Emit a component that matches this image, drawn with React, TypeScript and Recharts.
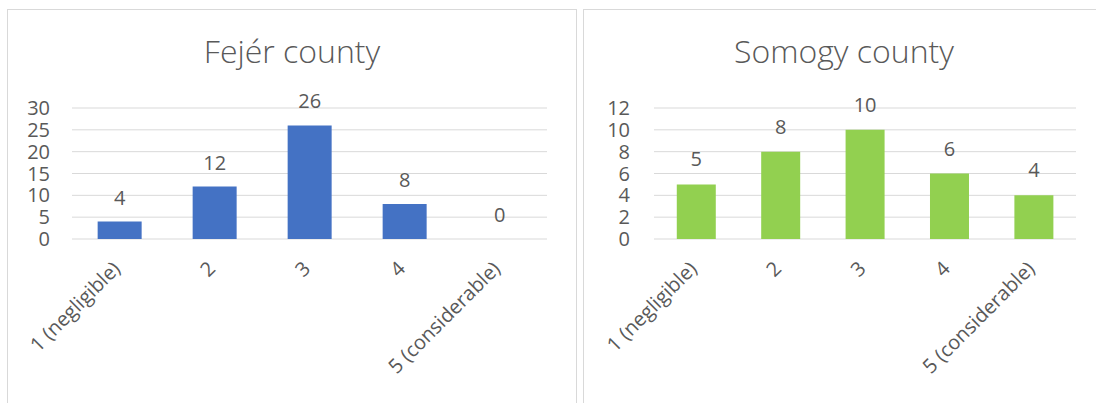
import React from 'react';
import { BarChart, Bar, XAxis, YAxis, CartesianGrid, LabelList, Rectangle } from 'recharts';

const categories = ['1 (negligible)', '2', '3', '4', '5 (considerable)'];
const fejerValues = [4, 12, 26, 8, 0];
const somogyValues = [5, 8, 10, 6, 4];
const fejerTicks = [0, 5, 10, 15, 20, 25, 30];
const somogyTicks = [0, 2, 4, 6, 8, 10, 12];
const edgeTicks = [0, 1, 2, 3, 4, 5];

const fejerData = categories.map((c, i) => ({ cat: c, v: fejerValues[i] }));
const somogyData = categories.map((c, i) => ({ cat: c, v: somogyValues[i] }));

const TEXT = '#595959';
const GRID = '#d9d9d9';
const AXIS = '#d0d0d0';
const FONT = "'Open Sans', sans-serif";

const CatTick = (props: any) => {
  const { x, y, payload } = props;
  return (
    <text
      x={0}
      y={0}
      transform={`translate(${x + 2},${y + 23}) rotate(-45)`}
      textAnchor="end"
      fontSize={20}
      fill={TEXT}
      fontFamily={FONT}
    >
      {payload.value}
    </text>
  );
};

const EmptyTick = () => <g />;

const BarShape = (props: any) => {
  if (!props.payload || props.payload.v === 0) return <g />;
  return <Rectangle {...props} />;
};

type PanelProps = {
  data: { cat: string; v: number }[];
  ticks: number[];
  color: string;
  width: number;
  marginRight: number;
  yWidth: number;
  tickMargin: number;
  labelOffset: number;
};

const Chart = ({ data, ticks, color, width, marginRight, yWidth, tickMargin, labelOffset }: PanelProps) => (
  <BarChart
    width={width}
    height={403}
    data={data}
    margin={{ top: 108, right: marginRight, bottom: 0, left: 0 }}
    barCategoryGap="27%"
  >
    <CartesianGrid xAxisId="cat" vertical={false} stroke={GRID} strokeWidth={1} />
    <XAxis
      xAxisId="edge"
      type="number"
      domain={[0, 5]}
      ticks={edgeTicks}
      allowDataOverflow
      height={0}
      tick={EmptyTick}
      tickSize={7}
      axisLine={{ stroke: AXIS, strokeWidth: 1 }}
      tickLine={{ stroke: AXIS, strokeWidth: 1 }}
    />
    <XAxis
      xAxisId="cat"
      dataKey="cat"
      type="category"
      interval={0}
      height={164}
      axisLine={false}
      tickLine={false}
      tick={CatTick}
    />
    <YAxis
      domain={[ticks[0], ticks[ticks.length - 1]]}
      ticks={ticks}
      interval={0}
      width={yWidth}
      axisLine={false}
      tickLine={false}
      tickSize={6}
      tickMargin={tickMargin}
      tick={{ fontSize: 20, fill: TEXT, fontFamily: FONT }}
    />
    <Bar xAxisId="cat" dataKey="v" fill={color} isAnimationActive={false} minPointSize={0.01} shape={BarShape}>
      <LabelList dataKey="v" position="top" offset={labelOffset} fill={TEXT} fontSize={20} fontFamily={FONT} />
    </Bar>
  </BarChart>
);

export default function App() {
  return (
    <div
      style={{
        position: 'absolute',
        left: 0,
        top: 0,
        width: 1096,
        height: 403,
        overflow: 'hidden',
        background: '#ffffff',
        fontFamily: FONT,
      }}
    >
      <div
        style={{
          position: 'absolute',
          left: 7,
          top: 9,
          width: 570,
          height: 430,
          border: `1px solid ${GRID}`,
          boxSizing: 'border-box',
        }}
      />
      <div
        style={{
          position: 'absolute',
          left: 583,
          top: 9,
          width: 522,
          height: 430,
          border: `1px solid ${GRID}`,
          boxSizing: 'border-box',
        }}
      />
      <svg style={{ position: 'absolute', left: 0, top: 0 }} width={1096} height={100}>
        <text x={292} y={63} textAnchor="middle" fontSize={32} fontWeight={300} fill={TEXT} fontFamily={FONT}>
          Fejér county
        </text>
        <text x={844} y={63} textAnchor="middle" fontSize={32} fontWeight={300} fill={TEXT} fontFamily={FONT}>
          Somogy county
        </text>
      </svg>
      <div style={{ position: 'absolute', left: 8, top: 0 }}>
        <Chart
          data={fejerData}
          ticks={fejerTicks}
          color="#4472C4"
          width={568}
          marginRight={29}
          yWidth={64}
          tickMargin={16}
          labelOffset={17}
        />
      </div>
      <div style={{ position: 'absolute', left: 583, top: 0 }}>
        <Chart
          data={somogyData}
          ticks={somogyTicks}
          color="#92D050"
          width={513}
          marginRight={20}
          yWidth={71}
          tickMargin={18}
          labelOffset={18}
        />
      </div>
    </div>
  );
}
